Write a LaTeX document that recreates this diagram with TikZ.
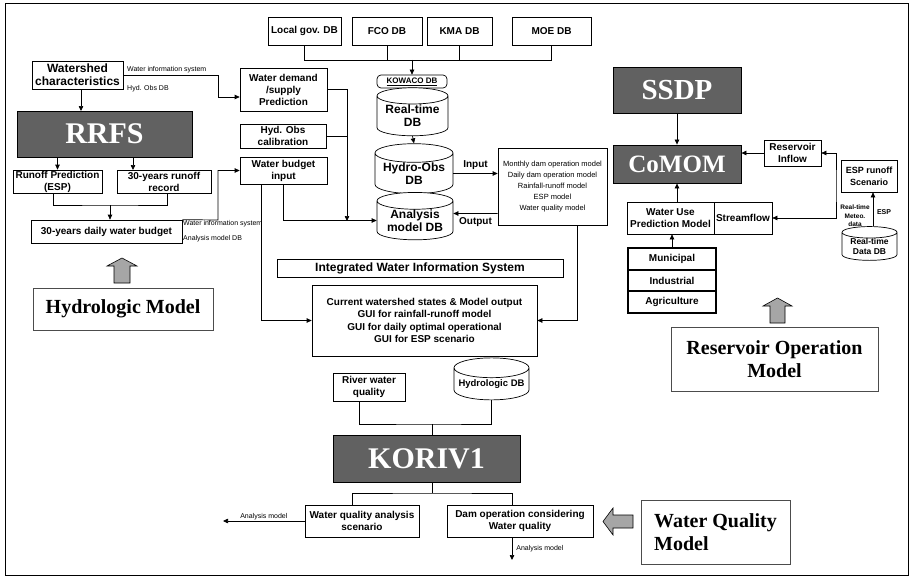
\documentclass[tikz,border=0pt]{standalone}
\usepackage{fontspec}
\setmainfont{Liberation Serif}
\setsansfont{Liberation Sans}
\usepackage{tikz}
\usetikzlibrary{shapes.geometric,arrows.meta}

\begin{document}
\begin{tikzpicture}[x=1pt,y=-1pt,
    box/.style={draw,line width=0.7pt,fill=white,inner sep=0pt,align=center,
      font=\sffamily\bfseries\fontsize{10}{12}\selectfont},
    titlebox/.style={draw,line width=0.8pt,fill=black!62,inner sep=0pt,text=white,
      font=\bfseries\fontsize{30}{32}\selectfont},
    dbcyl/.style={cylinder,shape border rotate=90,draw,line width=0.7pt,fill=white,
      inner sep=0pt,aspect=0.3,align=center,
      font=\sffamily\bfseries\fontsize{12}{13}\selectfont},
    modelnote/.style={draw=black!70,line width=0.5pt,inner sep=0pt,
      font=\bfseries\fontsize{20}{23}\selectfont},
    tiny/.style={font=\sffamily\fontsize{7}{8}\selectfont,inner sep=1pt},
    conn/.style={line width=0.7pt},
    arr/.style={conn,-{Triangle[length=5pt,width=4.5pt]}},
    bigarrow/.style={draw,line width=0.6pt,fill=black!35}]

    \useasboundingbox (0,0) rectangle (913,578);
    \draw[line width=1pt] (5,4) rectangle (908,575);

    % source databases
    \node[box,minimum width=73pt,minimum height=28pt] (localdb) at (304.5,31) {Local gov. DB};
    \node[box,minimum width=70pt,minimum height=28pt] (fcodb) at (387,31) {FCO DB};
    \node[box,minimum width=65pt,minimum height=28pt] (kmadb) at (459.5,31) {KMA DB};
    \node[box,minimum width=79pt,minimum height=28pt] (moedb) at (551.5,31) {MOE DB};

    \node[box,rounded corners=4pt,minimum width=70pt,minimum height=13pt,
      font=\sffamily\bfseries\fontsize{8}{9}\selectfont] (kowaco) at (412,81.5) {\underline{KOWACO DB}};
    \node[dbcyl,minimum width=71pt,minimum height=48pt] (realdb) at (412.5,116) {Real-time\\DB};
    \node[dbcyl,minimum width=78pt,minimum height=47pt] (hydrodb) at (414,173.5) {Hydro-Obs\\DB};
    \node[dbcyl,minimum width=76pt,minimum height=39pt] (anadb) at (415,220.5) {Analysis\\model DB};

    \node[box,minimum width=109pt,minimum height=77pt,
      font=\sffamily\fontsize{7.5}{11}\selectfont] (modelbox) at (552.5,186.5)
      {Monthly dam operation model\\Daily dam operation model\\Rainfall-runoff model\\ESP model\\Water quality model};

    \node[box,minimum width=286pt,minimum height=18pt,
      font=\sffamily\bfseries\fontsize{12}{14}\selectfont] (iwis) at (420,268) {Integrated Water Information System};
    \node[box,minimum width=225pt,minimum height=71pt,
      font=\sffamily\bfseries\fontsize{10}{12.3}\selectfont] (guibox) at (424.5,320.5)
      {Current watershed states \& Model output\\GUI for rainfall-runoff model\\GUI for daily optimal operational\\GUI for ESP scenario};

    % hydrologic model side
    \node[box,minimum width=91pt,minimum height=28pt,
      font=\sffamily\bfseries\fontsize{12}{13}\selectfont] (wshed) at (77.5,75) {Watershed\\characteristics};
    \node[titlebox,minimum width=175pt,minimum height=46pt] (rrfs) at (104.5,134) {RRFS};
    \node[box,minimum width=89pt,minimum height=23pt] (runoffpred) at (57.5,181.5) {Runoff Prediction\\(ESP)};
    \node[box,minimum width=94pt,minimum height=23pt] (runoffrec) at (164,181.5) {30-years runoff\\record};
    \node[box,minimum width=151pt,minimum height=23pt] (dailybudget) at (106.5,231.5) {30-years daily water budget};
    \node[modelnote,minimum width=180pt,minimum height=42pt] (hydromodel) at (123,309) {Hydrologic Model};

    \node[box,minimum width=87pt,minimum height=43pt] (demand) at (283.5,89.5) {Water demand\\/supply\\Prediction};
    \node[box,minimum width=86pt,minimum height=24pt] (calib) at (283,136) {Hyd. Obs\\calibration};
    \node[box,minimum width=87pt,minimum height=27pt] (budgetin) at (283.5,170.5) {Water budget\\input};

    % reservoir operation side
    \node[titlebox,minimum width=128pt,minimum height=46pt,font=\bfseries\fontsize{29}{31}\selectfont] (ssdp) at (677,90) {SSDP};
    \node[titlebox,minimum width=128pt,minimum height=38pt,font=\bfseries\fontsize{25}{27}\selectfont] (comom) at (677,164) {CoMOM};
    \node[box,minimum width=57pt,minimum height=26pt] (inflow) at (792.5,153) {Reservoir\\Inflow};
    \node[box,minimum width=56pt,minimum height=32pt,
      font=\sffamily\bfseries\fontsize{9}{12}\selectfont] (espscen) at (869,176) {ESP runoff\\Scenario};
    \node[dbcyl,minimum width=55pt,minimum height=33pt,
      font=\sffamily\bfseries\fontsize{8.5}{10}\selectfont] (rtdatadb) at (869.5,246.5) {Real-time\\Data DB};
    \node[box,minimum width=87pt,minimum height=32pt] (wateruse) at (670.5,218) {Water Use\\Prediction Model};
    \node[box,minimum width=58pt,minimum height=32pt] (streamflow) at (743,218) {Streamflow};
    \node[box,line width=1.3pt,minimum width=88pt,minimum height=22pt] (municipal) at (672,259) {Municipal};
    \node[box,line width=1.3pt,minimum width=88pt,minimum height=21pt] (industrial) at (672,280.5) {Industrial};
    \node[box,line width=1.3pt,minimum width=88pt,minimum height=22pt] (agriculture) at (672,302) {Agriculture};
    \node[modelnote,minimum width=207pt,minimum height=64pt,align=center] (resopmodel) at (774.5,359) {Reservoir Operation\\Model};

    % water quality side
    \node[box,minimum width=72pt,minimum height=28pt] (riverwq) at (369,387) {River water\\quality};
    \node[dbcyl,minimum width=75pt,minimum height=42pt,
      font=\sffamily\bfseries\fontsize{9.5}{11}\selectfont] (hydrologicdb) at (491.5,384) {Hydrologic DB};
    \node[titlebox,minimum width=187pt,minimum height=47pt] (koriv) at (426.5,458.5) {KORIV1};
    \node[box,minimum width=114pt,minimum height=32pt] (wqscen) at (362,521) {Water quality analysis\\scenario};
    \node[box,minimum width=146pt,minimum height=32pt] (damop) at (520,521) {Dam operation considering\\Water quality};
    \node[modelnote,minimum width=149pt,minimum height=64pt,align=left] (wqmodel) at (715.5,532) {Water Quality\\Model};

    % connectors, top
    \coordinate (bus) at (412,60);
    \draw[conn] (localdb.south) |- (moedb.south |- bus) -- (moedb.south);
    \draw[conn] (fcodb.south) -- (fcodb.south |- bus);
    \draw[conn] (kmadb.south) -- (kmadb.south |- bus);
    \draw[arr] (bus) -- (kowaco.north);
    \draw[arr] (realdb.south) -- (hydrodb.north);
    \draw[arr] (hydrodb.east) -- (hydrodb.east -| modelbox.west)
      node[midway,above,font=\sffamily\bfseries\fontsize{10}{12}\selectfont] {Input};
    \draw[arr] (modelbox.west |- 0,213.5) -- ([yshift=7pt]anadb.east)
      node[midway,below,font=\sffamily\bfseries\fontsize{10}{12}\selectfont] {Output};

    \coordinate (colx) at (347,221);
    \draw[arr] (demand.east) -| (colx);
    \draw[conn] (calib.east) -- (calib.east -| colx);
    \draw[arr] (budgetin.south) |- (anadb.west);
    \draw[arr] ([xshift=-22pt]budgetin.south) |- (guibox.west);
    \draw[arr] ([xshift=24.5pt]modelbox.south) |- (guibox.east);

    % connectors, hydrologic model
    \coordinate (wis1) at (218,75);
    \draw[arr] (wshed.east) -- (wis1) |- ([yshift=-7.5pt]demand.west);
    \node[tiny,anchor=south west] (wislbl1) at (126,74) {Water information system};
    \node[tiny,anchor=west] (hydlbl) at (126,89) {Hyd. Obs DB};
    \coordinate (rrfsin) at (81,111);
    \draw[arr] (wshed.south -| rrfsin) -- (rrfsin);
    \draw[arr] (rrfs.south -| runoffpred.north) -- (runoffpred.north);
    \coordinate (recin) at (133,170);
    \draw[arr] (rrfs.south -| recin) -- (recin);
    \coordinate (jn) at (110,205);
    \draw[conn] ([xshift=-4.5pt]runoffpred.south) |- (jn) -| ([xshift=3pt]runoffrec.south);
    \draw[arr] (jn) -- (jn |- dailybudget.north);
    \coordinate (wis2) at (218,220);
    \draw[arr] (dailybudget.north east) -- (wis2) |- (budgetin.west);
    \node[tiny,anchor=west] (wislbl2) at (182,224) {Water information system};
    \node[tiny,anchor=west] (analbl) at (182,239) {Analysis model DB};

    % connectors, reservoir operation
    \draw[arr] (ssdp.south) -- (comom.north);
    \draw[arr] (inflow.west) -- (inflow.west -| comom.east);
    \coordinate (espx) at (836,186);
    \draw[conn,{Triangle[length=5pt,width=4.5pt]}-{Triangle[length=5pt,width=4.5pt]}]
      (inflow.east) -| (espx) |- (streamflow.east);
    \draw[arr] (comom.south |- wateruse.north) -- (comom.south);
    \draw[arr] (municipal.north) -- (municipal.north |- wateruse.south);
    \draw[arr] ([xshift=3.5pt]rtdatadb.north) -- ([xshift=3.5pt]rtdatadb.north |- espscen.south);
    \node[align=center,inner sep=0pt,font=\sffamily\bfseries\fontsize{6.5}{8.5}\selectfont] (meteo) at (855,216) {Real-time\\Meteo.\\data};
    \node[inner sep=0pt,font=\sffamily\bfseries\fontsize{7}{8}\selectfont] (esplbl) at (884,212) {ESP};

    % connectors, water quality
    \coordinate (kin) at (432,424);
    \draw[conn] ([xshift=-10pt]riverwq.south) |- (kin) -| (hydrologicdb.south);
    \draw[conn] (kin) -- (kin |- koriv.north);
    \coordinate (kout) at (432,493);
    \draw[conn] (kout |- koriv.south) -- (kout);
    \draw[conn] ([xshift=-10pt]wqscen.north) |- (kout) -| ([xshift=-8pt]damop.north);
    \coordinate (wqout) at (223,521);
    \draw[arr] (wqscen.west) -- (wqout) node[midway,above,tiny] {Analysis model};
    \coordinate (damout) at (512,560);
    \draw[arr] ([xshift=-8pt]damop.south) -- (damout) node[midway,right,tiny,xshift=3pt] {Analysis model};

    % big hollow arrows
    \draw[bigarrow] (122,258) -- (137,266) -- (130,266) -- (130,283) -- (114,283) -- (114,266) -- (107,266) -- cycle;
    \draw[bigarrow] (777.5,298) -- (792,306) -- (785,306) -- (785,323) -- (770,323) -- (770,306) -- (763,306) -- cycle;
    \draw[bigarrow] (603,521.5) -- (613,508) -- (613,515) -- (633,515) -- (633,528) -- (613,528) -- (613,535) -- cycle;
\end{tikzpicture}
\end{document}
